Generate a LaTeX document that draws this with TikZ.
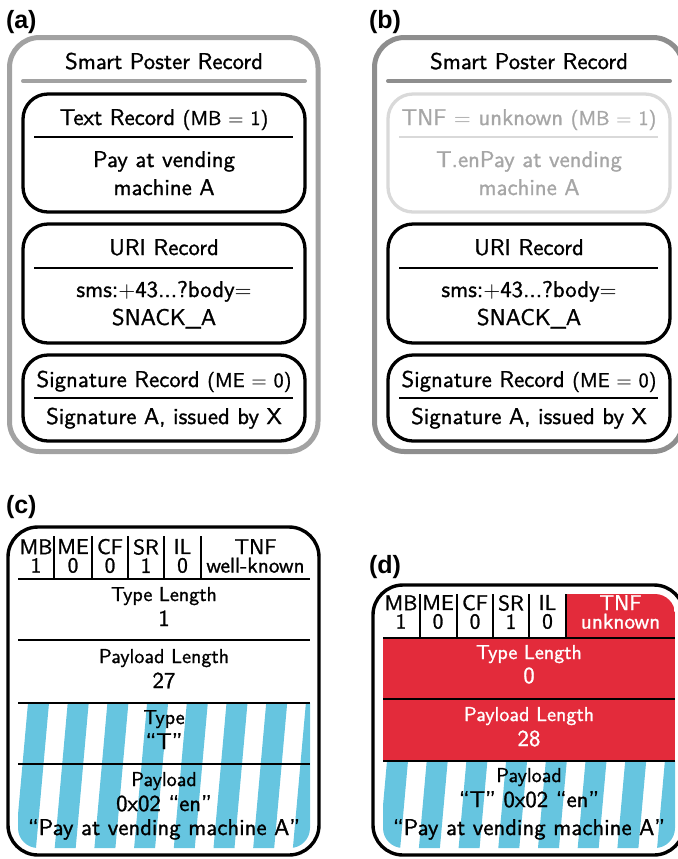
\documentclass[tikz,border=0pt]{standalone}
\usepackage{fontspec}
\newfontfamily\labelfont{Liberation Sans}
\newfontfamily\figsans{lmsans10-regular}[Extension=.otf,Ligatures=TeX,FakeBold=1.2]
\definecolor{frameA}{HTML}{A2A2A2}
\definecolor{frameB}{HTML}{8E8E8E}
\definecolor{fadeline}{HTML}{D9D9D9}
\definecolor{fadetext}{HTML}{A6A6A6}
\definecolor{stripeblue}{HTML}{66C5E0}
\definecolor{tnfred}{HTML}{E32B3B}
\newcommand\mainsz{\fontsize{11.4}{13.5}\selectfont}
\newcommand\smallsz{\fontsize{10.05}{12}\selectfont}
\newcommand\cellsz{\fontsize{10.7}{9.25}\selectfont}
\begin{document}
\begin{tikzpicture}[x=0.5pt,y=-0.5pt,
  every node/.style={inner sep=0pt,outer sep=0pt},
  txt/.style={anchor=base,font=\figsans\bfseries\mainsz},
  sml/.style={anchor=base,font=\figsans\bfseries\smallsz},
  cell/.style={anchor=center,align=center,font=\figsans\bfseries\cellsz},
  panel/.style={anchor=base west,font=\labelfont\bfseries\fontsize{12.5}{14}\selectfont},
  frame/.style={line width=2.5pt,rounded corners=15pt},
  titlesep/.style={line width=2pt,line cap=round},
  recbox/.style={draw=black,line width=1.65pt,rounded corners=12.5pt},
  recsep/.style={line width=1.35pt},
  fieldframe/.style={draw=black,line width=1.7pt,rounded corners=15pt},
  fieldsep/.style={line width=1.3pt},
  stripe/.style={fill=stripeblue},
  onred/.style={text=white}]
\useasboundingbox (0,0) rectangle (677,859);

% ---------- (a) smart poster, original ----------
\node[panel] (labA) at (6,28) {(a)};
\draw[frame,draw=frameA] (9.5,37.5) rectangle (318,451.5);
\node[txt] (aTitle) at (164,69) {Smart Poster Record};
\draw[titlesep,draw=frameA] (23,81) -- (305,81);

\draw[recbox] (23,94) rectangle (305,212);
\node[txt] (aTextHead) at (164,125) {Text Record {\smallsz(MB $=$ 1)}};
\draw[recsep] (34,137) -- (293,137);
\node[txt] (aTextB1) at (164,167) {Pay at vending};
\node[txt] (aTextB2) at (164,195) {machine A};

\draw[recbox] (23,224) rectangle (305,343);
\node[txt] (aUriHead) at (164,255) {URI Record};
\draw[recsep] (34,268) -- (293,268);
\node[txt] (aUriB1) at (164,297) {sms:$+$43...?body$=$};
\node[txt] (aUriB2) at (164,325) {SNACK\_A};

\draw[recbox] (23,355) rectangle (305,441);
\node[txt] (aSigHead) at (164,387) {Signature Record {\smallsz(ME $=$ 0)}};
\draw[recsep] (34,398) -- (293,398);
\node[txt] (aSigB) at (164,424) {Signature A, issued by X};

% ---------- (b) smart poster, modified first record ----------
\node[panel] (labB) at (369,28) {(b)};
\draw[frame,draw=frameB] (374.5,37.5) rectangle (683,451.5);
\node[txt] (bTitle) at (529,69) {Smart Poster Record};
\draw[titlesep,draw=frameB] (388,81) -- (670,81);

\draw[recbox,draw=fadeline] (388,94) rectangle (670,212);
\node[txt,text=fadetext] (bTnfHead) at (529,125) {TNF $=$ unknown {\smallsz(MB $=$ 1)}};
\draw[recsep,draw=fadeline] (399,137) -- (658,137);
\node[txt,text=fadetext] (bTnfB1) at (529,167) {T.enPay at vending};
\node[txt,text=fadetext] (bTnfB2) at (529,195) {machine A};

\draw[recbox] (388,224) rectangle (670,343);
\node[txt] (bUriHead) at (529,255) {URI Record};
\draw[recsep] (399,268) -- (658,268);
\node[txt] (bUriB1) at (529,297) {sms:$+$43...?body$=$};
\node[txt] (bUriB2) at (529,325) {SNACK\_A};

\draw[recbox] (388,355) rectangle (670,441);
\node[txt] (bSigHead) at (529,387) {Signature Record {\smallsz(ME $=$ 0)}};
\draw[recsep] (399,398) -- (658,398);
\node[txt] (bSigB) at (529,424) {Signature A, issued by X};

% ---------- (c) NDEF text record layout ----------
\node[panel] (labC) at (6,513) {(c)};
\begin{scope}
  \clip[rounded corners=10pt] (18,536) rectangle (310,848);
  \foreach \k in {-1,...,8} {
    \fill[stripe] ({28+39.7*\k},703) -- ({49+39.7*\k},703)
      -- ({36+39.7*\k},848) -- ({15+39.7*\k},848) -- cycle;
  }
\end{scope}
\foreach \x in {54,92,128,164,201} \draw[fieldsep] (\x,536) -- (\x,579);
\draw[fieldsep] (18,579) -- (310,579);
\draw[fieldsep] (18,640) -- (310,640);
\draw[fieldsep] (18,703) -- (310,703);
\draw[fieldsep] (18,764) -- (310,764);

\node[cell] (cMB)  at (36,556)    {MB\\1};
\node[cell] (cME)  at (73,556)    {ME\\0};
\node[cell] (cCF)  at (110,556)   {CF\\0};
\node[cell] (cSR)  at (146,556)   {SR\\1};
\node[cell] (cIL)  at (182.5,556) {IL\\0};
\node[cell] (cTNF) at (255.5,556) {TNF\\well-known};

\node[sml] (cTL)  at (164,601) {Type Length};
\node[txt] (cTLv) at (164,626) {1};
\node[sml] (cPL)  at (164,663) {Payload Length};
\node[txt] (cPLv) at (164,688) {27};
\node[sml] (cTy)  at (164,724) {Type};
\node[txt] (cTyv) at (164,749) {“T”};
\node[sml] (cPy)  at (164,786) {Payload};
\node[txt] (cPy1) at (164,811) {0x02 “en”};
\node[txt] (cPy2) at (164,835) {“Pay at vending machine A”};
\draw[fieldframe] (8,527) rectangle (319,855);

% ---------- (d) NDEF record with unknown TNF ----------
\node[panel] (labD) at (369,573) {(d)};
\begin{scope}
  \clip[rounded corners=10pt] (383,594) rectangle (675,848);
  \fill[tnfred] (566,594) rectangle (675,638);
  \fill[tnfred] (383,638) rectangle (675,761);
  \foreach \k in {-1,...,8} {
    \fill[stripe] ({387+39.7*\k},761) -- ({408+39.7*\k},761)
      -- ({400.2+39.7*\k},848) -- ({379.2+39.7*\k},848) -- cycle;
  }
\end{scope}
\foreach \x in {420,457,493,529,566} \draw[fieldsep] (\x,594) -- (\x,638);
\draw[fieldsep] (383,638) -- (675,638);
\draw[fieldsep] (383,699) -- (675,699);
\draw[fieldsep] (383,761) -- (675,761);

\node[cell] (dMB)  at (401,612)   {MB\\1};
\node[cell] (dME)  at (438,612)   {ME\\0};
\node[cell] (dCF)  at (475,612)   {CF\\0};
\node[cell] (dSR)  at (511,612)   {SR\\1};
\node[cell] (dIL)  at (547.5,612) {IL\\0};
\node[cell,onred] (dTNF) at (620.5,612) {TNF\\unknown};

\node[sml,onred] (dTL)  at (529,659) {Type Length};
\node[txt,onred] (dTLv) at (529,683) {0};
\node[sml,onred] (dPL)  at (529,721) {Payload Length};
\node[txt,onred] (dPLv) at (529,746) {28};
\node[sml] (dPy)  at (529,782) {Payload};
\node[txt] (dPy1) at (529,807) {“T” 0x02 “en”};
\node[txt] (dPy2) at (529,835) {“Pay at vending machine A”};
\draw[fieldframe] (373,585) rectangle (684,855);
\end{tikzpicture}
\end{document}
